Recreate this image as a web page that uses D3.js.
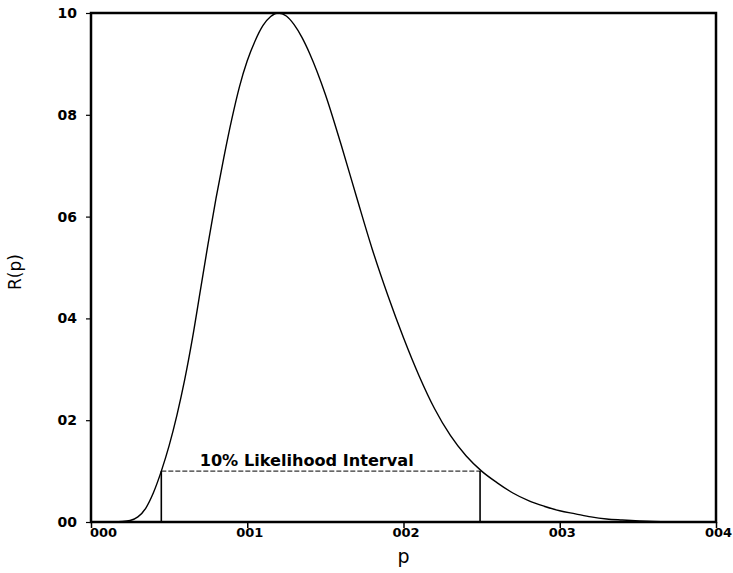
<!DOCTYPE html>
<html>
<head>
<meta charset="utf-8">
<script src="https://cdn.jsdelivr.net/npm/d3@7/dist/d3.min.js"></script>
<style>
  body { margin: 0; background: #fff; }
  svg { display: block; }
</style>
</head>
<body>
<svg id="chart" width="733" height="573"></svg>
<script>
// ---- data ----
const pValues = [0.0000, 0.0010, 0.0020, 0.0025, 0.0030, 0.0035, 0.0040, 0.0045, 0.0050, 0.0055,
                 0.0060, 0.0065, 0.0070, 0.0075, 0.0080, 0.0085, 0.0090, 0.0095, 0.0100, 0.0105,
                 0.0110, 0.0115, 0.0120, 0.0125, 0.0130, 0.0135, 0.0140, 0.0150, 0.0160, 0.0170,
                 0.0180, 0.0190, 0.0200, 0.0210, 0.0220, 0.0230, 0.0240, 0.0250, 0.0260, 0.0270,
                 0.0280, 0.0290, 0.0300, 0.0310, 0.0320, 0.0330, 0.0340, 0.0360, 0.0380, 0.0400];
const rValues = [0.000, 0.000, 0.001, 0.003, 0.010, 0.027, 0.058, 0.100, 0.150, 0.210,
                 0.280, 0.362, 0.455, 0.548, 0.636, 0.716, 0.790, 0.855, 0.906, 0.945,
                 0.975, 0.993, 1.000, 0.994, 0.977, 0.952, 0.920, 0.840, 0.742, 0.638,
                 0.536, 0.445, 0.362, 0.287, 0.222, 0.170, 0.130, 0.100, 0.077, 0.057,
                 0.042, 0.031, 0.022, 0.016, 0.010, 0.006, 0.004, 0.001, 0.000, 0.000];
const xTickValues = [0.00, 0.01, 0.02, 0.03, 0.04];
const xTickLabels = ["000", "001", "002", "003", "004"];
const yTickValues = [0.0, 0.2, 0.4, 0.6, 0.8, 1.0];
const yTickLabels = ["00", "02", "04", "06", "08", "10"];
const intervalLevel = [0.10];
const intervalBounds = [0.0045, 0.0249];
const intervalLabel = ["10% Likelihood Interval"];
const xTitle = "p";
const yTitle = "R(p)";

// ---- layout ----
const W = 733, H = 573;
const m = { left: 91, top: 13, right: 17, bottom: 51 };
const svg = d3.select("#chart");

const x = d3.scaleLinear().domain([0, 0.04]).range([m.left, W - m.right]);
const y = d3.scaleLinear().domain([0, 1]).range([H - m.bottom, m.top]);

const tickFont = "'DejaVu Sans', sans-serif";

// x axis
const xAxis = svg.append("g")
  .attr("transform", `translate(0,${H - m.bottom})`)
  .call(d3.axisBottom(x).tickValues(xTickValues)
    .tickFormat((d, i) => xTickLabels[i]).tickSize(6).tickPadding(0));
xAxis.select(".domain").remove();
xAxis.selectAll(".tick line").attr("stroke", "#000").attr("stroke-width", 1.5);
xAxis.selectAll(".tick text").attr("fill", "#000")
  .style("font-family", tickFont).style("font-size", "13px").style("font-weight", "bold")
  .attr("dx", (d, i) => i === 0 ? 12 : 2);

// y axis
const yAxis = svg.append("g")
  .attr("transform", `translate(${m.left},0)`)
  .call(d3.axisLeft(y).tickValues(yTickValues)
    .tickFormat((d, i) => yTickLabels[i]).tickSize(5).tickPadding(9));
yAxis.select(".domain").remove();
yAxis.selectAll(".tick line").attr("stroke", "#000").attr("stroke-width", 1.2);
yAxis.selectAll(".tick text").attr("fill", "#000")
  .style("font-family", tickFont).style("font-size", "14px").style("font-weight", "bold");

// frame
svg.append("rect")
  .attr("x", x(0)).attr("y", y(1))
  .attr("width", x(0.04) - x(0)).attr("height", y(0) - y(1))
  .attr("fill", "none").attr("stroke", "#000").attr("stroke-width", 2.5);

// curve
const pts = pValues.map((p, i) => [p, rValues[i]]);
const line = d3.line().x(d => x(d[0])).y(d => y(d[1])).curve(d3.curveMonotoneX);
svg.append("path")
  .attr("d", line(pts))
  .attr("fill", "none").attr("stroke", "#000").attr("stroke-width", 1.4);

// likelihood interval
svg.append("line")
  .attr("x1", x(intervalBounds[0])).attr("x2", x(intervalBounds[1]))
  .attr("y1", y(intervalLevel[0])).attr("y2", y(intervalLevel[0]))
  .attr("stroke", "#000").attr("stroke-width", 1).attr("stroke-dasharray", "5,2");
svg.selectAll(".ivert").data(intervalBounds).enter().append("line")
  .attr("class", "ivert")
  .attr("x1", d => x(d)).attr("x2", d => x(d))
  .attr("y1", y(0)).attr("y2", y(intervalLevel[0]))
  .attr("stroke", "#000").attr("stroke-width", 1.6);
svg.append("text")
  .attr("x", (x(intervalBounds[0]) + x(intervalBounds[1])) / 2 - 14)
  .attr("y", y(intervalLevel[0]) - 5)
  .attr("text-anchor", "middle")
  .attr("textLength", 214).attr("lengthAdjust", "spacingAndGlyphs")
  .style("font-family", "'DejaVu Sans', sans-serif").style("font-size", "16px").style("font-weight", "bold")
  .text(intervalLabel[0]);

// axis titles
svg.append("text")
  .attr("x", x(0.02)).attr("y", 563)
  .attr("text-anchor", "middle")
  .style("font-family", "'DejaVu Sans', sans-serif").style("font-size", "19px")
  .text(xTitle);
svg.append("text")
  .attr("transform", `translate(21,${272}) rotate(-90)`)
  .attr("text-anchor", "middle")
  .style("font-family", "'DejaVu Sans', sans-serif").style("font-size", "17px")
  .text(yTitle);
</script>
</body>
</html>
